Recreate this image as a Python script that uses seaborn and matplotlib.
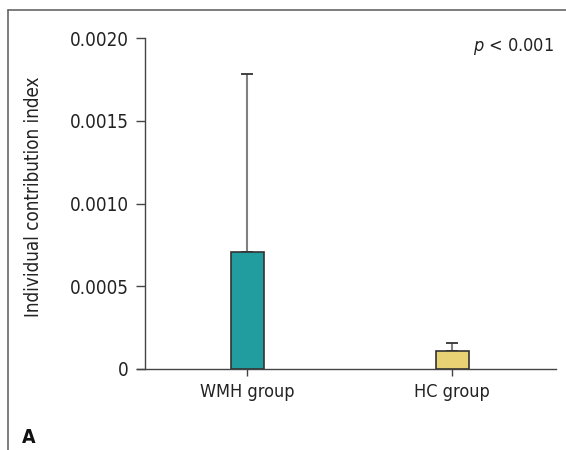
import matplotlib
matplotlib.use("Agg")
import matplotlib.pyplot as plt
import seaborn as sns
import pandas as pd
from matplotlib.lines import Line2D

groups = ["WMH group", "HC group"]
means = [0.000707, 0.000107]
upper_err = [0.001075, 0.000047]
bar_colors = ["#219C9F", "#E8D273"]
yticks = [0, 0.0005, 0.0010, 0.0015, 0.0020]
ytick_labels = ["0", "0.0005", "0.0010", "0.0015", "0.0020"]

sns.set_theme(style="white")
plt.rcParams["font.family"] = ["Liberation Sans Narrow", "DejaVu Sans"]
plt.rcParams["font.stretch"] = "condensed"

df = pd.DataFrame({"group": groups, "mean": means})

W, H = 566, 450
x0, x1, y0, y1 = 137, 556, 368.7, 38.3
fig = plt.figure(figsize=(W / 100, H / 100), dpi=100)
ax = fig.add_axes([x0 / W, 1 - y0 / H, (x1 - x0) / W, (y0 - y1) / H])

sns.barplot(data=df, x="group", y="mean", hue="group", palette=bar_colors,
            order=groups, hue_order=groups, legend=False, errorbar=None,
            width=0.161, saturation=1, edgecolor="#333333", linewidth=1.2, ax=ax, zorder=3)

ax.errorbar(range(len(groups)), means, yerr=[[0] * len(groups), upper_err],
            fmt="none", ecolor="#808080", elinewidth=1.5, capsize=0, zorder=2)
ax.errorbar(range(len(groups)), means, yerr=[[0] * len(groups), upper_err],
            fmt="none", ecolor="#333333", elinewidth=0, capsize=4, capthick=1.3, zorder=2)

ax.set_xlim(-0.537, 1.507)
ax.set_ylim(0, 0.0020)
ax.set_yticks(yticks)
ax.set_yticklabels(ytick_labels)
ax.set_xlabel("")
ax.set_ylabel("Individual contribution index", fontsize=13.5, color="#222222")
ax.yaxis.set_label_coords((43 - x0) / (x1 - x0), (y0 - 197) / (y0 - y1))

for s in ["top", "right"]:
    ax.spines[s].set_visible(False)
ax.spines["left"].set_position(("data", -0.5))
for s in ["left", "bottom"]:
    ax.spines[s].set_color("#444444")
    ax.spines[s].set_linewidth(1.0)

ax.tick_params(axis="y", direction="out", length=6.5, width=1.0, color="#444444",
               labelsize=13.5, labelcolor="#222222", pad=5, left=True)
ax.tick_params(axis="x", direction="out", length=5, width=1.0, color="#444444",
               labelsize=13, labelcolor="#222222", pad=5, bottom=True)

fig.text(554 / W, 1 - 46.5 / H, r"$\it{p}$ < 0.001", ha="right", va="center",
         fontsize=13, color="#222222")

fig.add_artist(Line2D([7.5 / W, 1.0], [1 - 10 / H, 1 - 10 / H], transform=fig.transFigure,
                      color="#666666", linewidth=1.2))
fig.add_artist(Line2D([7.5 / W, 7.5 / W], [0, 1 - 10 / H], transform=fig.transFigure,
                      color="#666666", linewidth=1.2))
fig.text(21.5 / W, 1 - 437.5 / H, "A", fontsize=14, fontweight="bold", ha="left", va="center",
         color="#111111")

fig.savefig("out.png", dpi=100)
